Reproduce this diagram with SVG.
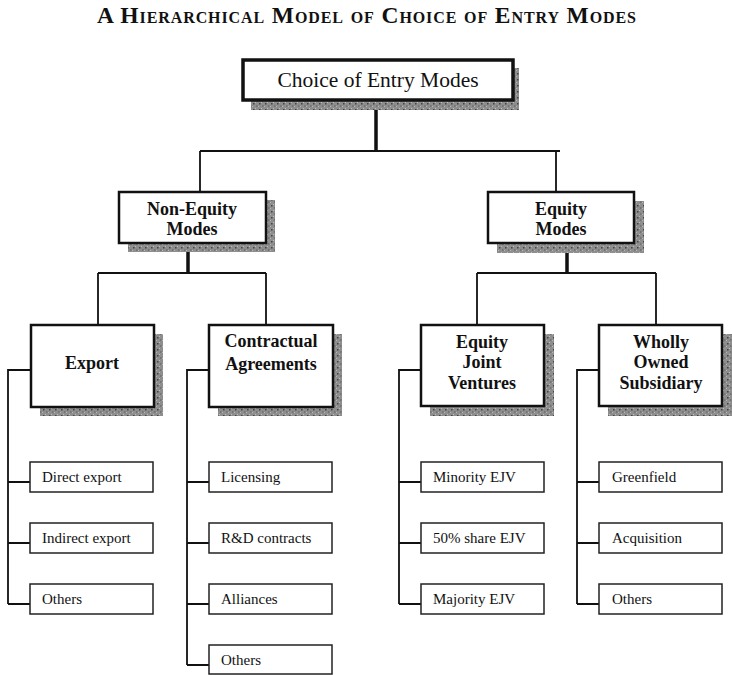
<svg xmlns="http://www.w3.org/2000/svg" width="732" height="675" viewBox="0 0 732 675">
<defs>
<pattern id="stip" width="6" height="6" patternUnits="userSpaceOnUse">
<rect width="6" height="6" fill="#8e8e8e"/>
<rect x="1" y="1" width="1.5" height="1.5" fill="#444"/>
<rect x="4" y="3.5" width="1.5" height="1" fill="#5a5a5a"/>
<rect x="3" y="0" width="1" height="1" fill="#bdbdbd"/>
<rect x="0" y="4" width="1" height="1" fill="#b8b8b8"/>
</pattern>
</defs>
<style>
.title{font-family:"Liberation Serif",serif;font-weight:bold;font-size:23.5px;font-variant:small-caps;fill:#111}
.shadow{fill:url(#stip)}
.b1{fill:#fff;stroke:#111;stroke-width:3.5}
.b2{fill:#fff;stroke:#111;stroke-width:2.5}
.b3{fill:#fff;stroke:#222;stroke-width:1.5}
.h{font-family:"Liberation Serif",serif;font-weight:bold;font-size:18px;fill:#111;text-anchor:middle}
.top{font-family:"Liberation Serif",serif;font-size:21.5px;fill:#111;text-anchor:middle}
.leaf{font-family:"Liberation Serif",serif;font-size:15px;fill:#111}
.c{fill:none;stroke:#111;stroke-width:1.8}
.ct{fill:none;stroke:#111;stroke-width:3.5}
</style>
<text class="title" x="97" y="23" textLength="539" lengthAdjust="spacing">A Hierarchical Model of Choice of Entry Modes</text>
<g id="connectors">
<path class="ct" d="M376 100 V151"/>
<path class="c" d="M200 151 H560 M200 151 V192 M556 151 V192"/>
<path class="ct" d="M188 243 V273 M567 243 V273"/>
<path class="c" d="M98 273 H266 M98 273 V325 M266 273 V325"/>
<path class="c" d="M477 273 H656 M477 273 V325 M656 273 V325"/>
<path class="c" d="M31 370 H8 V604 M8 482 H30 M8 543 H30 M8 604 H30"/>
<path class="c" d="M209 370 H187 V665 M187 482 H209 M187 543 H209 M187 604 H209 M187 665 H209"/>
<path class="c" d="M421 370 H399 V604 M399 482 H421 M399 543 H421 M399 604 H421"/>
<path class="c" d="M599 370 H577 V604 M577 482 H599 M577 543 H599 M577 604 H599"/>
</g>
<g id="n-root">
<rect class="shadow" x="251" y="68" width="268" height="42"/>
<rect class="b1" x="243" y="60" width="270" height="40"/>
<text class="top" x="378" y="87">Choice of Entry Modes</text>
</g>
<g id="n-nonequity">
<rect class="shadow" x="128" y="200" width="147" height="52"/>
<rect class="b2" x="119" y="192" width="147" height="51"/>
<text class="h" x="192" y="215">Non-Equity</text>
<text class="h" x="192" y="235">Modes</text>
</g>
<g id="n-equity">
<rect class="shadow" x="497" y="201" width="147" height="52"/>
<rect class="b2" x="488" y="192" width="146" height="51"/>
<text class="h" x="561" y="215">Equity</text>
<text class="h" x="561" y="235">Modes</text>
</g>
<g id="n-export">
<rect class="shadow" x="40" y="334" width="123" height="82"/>
<rect class="b2" x="31" y="325" width="123" height="82"/>
<text class="h" x="92" y="369">Export</text>
</g>
<g id="n-contract">
<rect class="shadow" x="218" y="334" width="124" height="82"/>
<rect class="b2" x="209" y="325" width="124" height="82"/>
<text class="h" x="271" y="347">Contractual</text>
<text class="h" x="271" y="370">Agreements</text>
</g>
<g id="n-ejv">
<rect class="shadow" x="430" y="334" width="124" height="82"/>
<rect class="b2" x="421" y="325" width="123" height="81"/>
<text class="h" x="482" y="348">Equity</text>
<text class="h" x="482" y="368">Joint</text>
<text class="h" x="482" y="389">Ventures</text>
</g>
<g id="n-wos">
<rect class="shadow" x="608" y="334" width="124" height="82"/>
<rect class="b2" x="599" y="325" width="123" height="81"/>
<text class="h" x="661" y="348">Wholly</text>
<text class="h" x="661" y="368">Owned</text>
<text class="h" x="661" y="389">Subsidiary</text>
</g>
<g id="l-direct"><rect class="b3" x="30" y="462" width="123" height="30"/><text class="leaf" x="42" y="482">Direct export</text></g>
<g id="l-indirect"><rect class="b3" x="30" y="523" width="123" height="30"/><text class="leaf" x="42" y="543">Indirect export</text></g>
<g id="l-others1"><rect class="b3" x="30" y="584" width="123" height="30"/><text class="leaf" x="42" y="604">Others</text></g>
<g id="l-licensing"><rect class="b3" x="209" y="462" width="123" height="30"/><text class="leaf" x="221" y="482">Licensing</text></g>
<g id="l-rd"><rect class="b3" x="209" y="523" width="123" height="30"/><text class="leaf" x="221" y="543">R&amp;D contracts</text></g>
<g id="l-alliances"><rect class="b3" x="209" y="584" width="123" height="30"/><text class="leaf" x="221" y="604">Alliances</text></g>
<g id="l-others2"><rect class="b3" x="209" y="645" width="123" height="29"/><text class="leaf" x="221" y="665">Others</text></g>
<g id="l-minority"><rect class="b3" x="421" y="462" width="123" height="30"/><text class="leaf" x="433" y="482">Minority EJV</text></g>
<g id="l-fifty"><rect class="b3" x="421" y="523" width="123" height="30"/><text class="leaf" x="433" y="543">50% share EJV</text></g>
<g id="l-majority"><rect class="b3" x="421" y="584" width="123" height="30"/><text class="leaf" x="433" y="604">Majority EJV</text></g>
<g id="l-greenfield"><rect class="b3" x="599" y="462" width="123" height="30"/><text class="leaf" x="612" y="482">Greenfield</text></g>
<g id="l-acquisition"><rect class="b3" x="599" y="523" width="123" height="30"/><text class="leaf" x="612" y="543">Acquisition</text></g>
<g id="l-others3"><rect class="b3" x="599" y="584" width="123" height="30"/><text class="leaf" x="612" y="604">Others</text></g>
</svg>
